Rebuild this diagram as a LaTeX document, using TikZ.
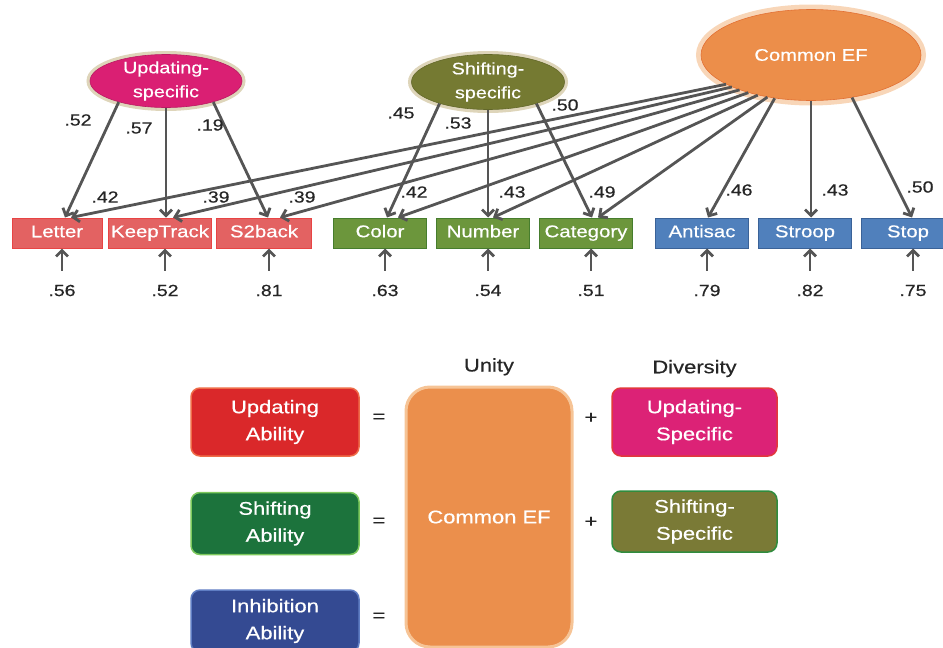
\documentclass[tikz,border=0pt]{standalone}
\usepackage{fontspec}
\setmainfont{Liberation Sans}[FakeStretch=1.2, FakeBold=0.5]
\usepackage{xcolor}
\usetikzlibrary{arrows.meta,positioning,shapes.geometric}

\definecolor{arrowgray}{RGB}{85,85,85}
\definecolor{halo}{RGB}{222,213,186}
\definecolor{updlat}{RGB}{218,31,115}
\definecolor{shilat}{RGB}{117,122,50}
\definecolor{ceflat}{RGB}{236,142,74}
\definecolor{cefline}{RGB}{226,112,52}
\definecolor{cefhalo}{RGB}{248,214,184}
\definecolor{updtaskfill}{RGB}{227,98,98}
\definecolor{updtaskline}{RGB}{232,68,68}
\definecolor{shitaskfill}{RGB}{108,150,60}
\definecolor{shitaskline}{RGB}{70,125,45}
\definecolor{inhtaskfill}{RGB}{80,128,188}
\definecolor{inhtaskline}{RGB}{58,98,152}
\definecolor{updabfill}{RGB}{218,40,42}
\definecolor{updabline}{RGB}{238,108,72}
\definecolor{shiabfill}{RGB}{28,115,60}
\definecolor{shiabline}{RGB}{125,200,92}
\definecolor{inhabfill}{RGB}{52,74,146}
\definecolor{inhabline}{RGB}{95,125,195}
\definecolor{cefboxfill}{RGB}{235,143,76}
\definecolor{cefboxline}{RGB}{246,196,150}
\definecolor{updspecfill}{RGB}{220,34,118}
\definecolor{updspecline}{RGB}{226,56,60}
\definecolor{shispecfill}{RGB}{122,122,54}
\definecolor{shispecline}{RGB}{48,140,62}

\begin{document}
\begin{tikzpicture}[
  x=1pt, y=-1pt,
  font=\fontsize{16.5}{24}\selectfont,
  latent/.style={ellipse, inner xsep=0pt, inner ysep=-2pt, text=white, align=center, line width=0.6pt},
  updlatent/.style={latent, fill=updlat, draw=updlat!85!black, preaction={draw=halo, line width=7pt}},
  shilatent/.style={latent, fill=shilat, draw=shilat!85!black, preaction={draw=halo, line width=7pt}},
  ceflatent/.style={latent, fill=ceflat, draw=cefline, preaction={draw=cefhalo, line width=10pt}},
  task/.style={draw, line width=1pt, text=white, minimum width=93pt, minimum height=30pt,
               inner sep=0pt, text height=12pt, text depth=3.5pt, font=\fontsize{17}{20}\selectfont},
  updtask/.style={task, fill=updtaskfill, draw=updtaskline},
  shitask/.style={task, fill=shitaskfill, draw=shitaskline},
  inhtask/.style={task, fill=inhtaskfill, draw=inhtaskline},
  load/.style={->, draw=arrowgray, line width=2.8pt},
  lbl/.style={font=\fontsize{16.2}{18}\selectfont, text=black!85, inner sep=0pt},
  ability/.style={rounded corners=9pt, draw, line width=1.5pt, text=white, align=center,
                  minimum width=168pt, inner sep=0pt, font=\fontsize{18.3}{27}\selectfont},
  unitybox/.style={ability, rounded corners=24pt, line width=3pt, fill=cefboxfill, draw=cefboxline},
  op/.style={font=\fontsize{18}{20}\selectfont, text=black!85, inner sep=0pt},
  head/.style={font=\fontsize{18.3}{20}\selectfont, text=black!85, inner sep=0pt},
  >={Straight Barb[length=6pt,width=12pt]}
]
  \useasboundingbox (0,0) rectangle (943,648);
  \clip (0,0) rectangle (943,648);

  % latent factors
  \node[updlatent, minimum width=152pt, minimum height=53pt] (upd) at (166,81) {Updating-\\specific};
  \node[shilatent, minimum width=153pt, minimum height=55pt] (shi) at (488,82) {Shifting-\\specific};
  \node[ceflatent, minimum width=220pt, minimum height=91pt, font=\fontsize{16.8}{20}\selectfont] (cef) at (811,55) {Common EF};

  % tasks
  \node[updtask, minimum width=90pt] (letter) at (57,233) {Letter};
  \node[updtask, minimum width=103pt] (keeptrack) at (160,233) {KeepTrack};
  \node[updtask, minimum width=95pt] (s2back) at (264,233) {S2back};
  \node[shitask] (color) at (380,233) {Color};
  \node[shitask] (number) at (483,233) {Number};
  \node[shitask] (category) at (586,233) {Category};
  \node[inhtask] (antisac) at (702,233) {Antisac};
  \node[inhtask] (stroop) at (805,233) {Stroop};
  \node[inhtask] (stop) at (908,233) {Stop};

  % specific loadings
  \draw[load] (upd.204) -- ([xshift=8pt]letter.north) node[lbl] (uLetter) at (78,120) {.52};
  \draw[load] (upd.south) -- (upd.south |- keeptrack.north) node[lbl] (uKeep) at (139,128) {.57};
  \draw[load] (upd.336) -- ([xshift=4pt]s2back.north) node[lbl] (uBack) at (210,125) {.19};
  \draw[load] (shi.204) -- ([xshift=7pt]color.north) node[lbl] (sColor) at (401,113) {.45};
  \draw[load] (shi.south) -- (shi.south |- number.north) node[lbl] (sNumber) at (458,123) {.53};
  \draw[load] (shi.336) -- ([xshift=6pt]category.north) node[lbl] (sCat) at (565,105) {.50};

  % common EF loadings
  \draw[load] (cef.199) -- ([xshift=14pt]letter.north) node[lbl] (cLetter) at (105,197) {.42};
  \draw[load] (cef.202) -- ([xshift=13pt]keeptrack.north) node[lbl] (cKeep) at (216,197) {.39};
  \draw[load] (cef.206) -- ([xshift=16pt]s2back.north) node[lbl] (cBack) at (302,197) {.39};
  \draw[load] (cef.211) -- ([xshift=18pt]color.north) node[lbl] (cColor) at (414,192) {.42};
  \draw[load] (cef.217) -- ([xshift=10pt]number.north) node[lbl] (cNumber) at (512,192) {.43};
  \draw[load] (cef.224) -- ([xshift=12pt]category.north) node[lbl] (cCat) at (602,192) {.49};
  \draw[load] (cef.230) -- ([xshift=6pt]antisac.north) node[lbl] (cAnti) at (739,190) {.46};
  \draw[load] (cef.south) -- (cef.south |- stroop.north) node[lbl] (cStroop) at (835,190) {.43};
  \draw[load] (cef.314) -- ([xshift=4pt]stop.north) node[lbl] (cStop) at (920,187) {.50};

  % residuals
  \foreach \t/\v in {letter/.56, keeptrack/.52, s2back/.81, color/.63, number/.54,
                     category/.51, antisac/.79, stroop/.82, stop/.75}{
    \node[lbl] (err-\t) at ([xshift=5pt,yshift=-42pt]\t.south) {\v};
    \draw[load, shorten <=14pt] (err-\t.north) -- (err-\t.north |- \t.south);
  }

  % unity and diversity
  \node[ability, fill=updabfill, draw=updabline, minimum height=68pt] (updab) at (275,422) {Updating\\Ability};
  \node[ability, fill=shiabfill, draw=shiabline, minimum height=62pt, below=35pt of updab] (shiab) {Shifting\\Ability};
  \node[ability, fill=inhabfill, draw=inhabline, minimum height=62pt, below=34pt of shiab] (inhab) {Inhibition\\Ability};
  \node[unitybox, minimum width=166pt, minimum height=260pt] (cefbox) at (489,517) {Common EF};
  \node[ability, fill=updspecfill, draw=updspecline, minimum width=165pt, minimum height=68pt] (updspec) at (694.5,422) {Updating-\\Specific};
  \node[ability, fill=shispecfill, draw=shispecline, minimum width=165pt, minimum height=61pt] (shispec) at (694.5,521.5) {Shifting-\\Specific};
  \node[head, above=10pt of cefbox] (unity) {Unity};
  \node[head, above=10pt of updspec] (diversity) {Diversity};

  \node[op] (eq1) at (379,418) {=};
  \node[op] (eq2) at (379,522) {=};
  \node[op] (eq3) at (379,617) {=};
  \node[op] (pl1) at (591,418) {+};
  \node[op] (pl2) at (591,522) {+};
\end{tikzpicture}
\end{document}
